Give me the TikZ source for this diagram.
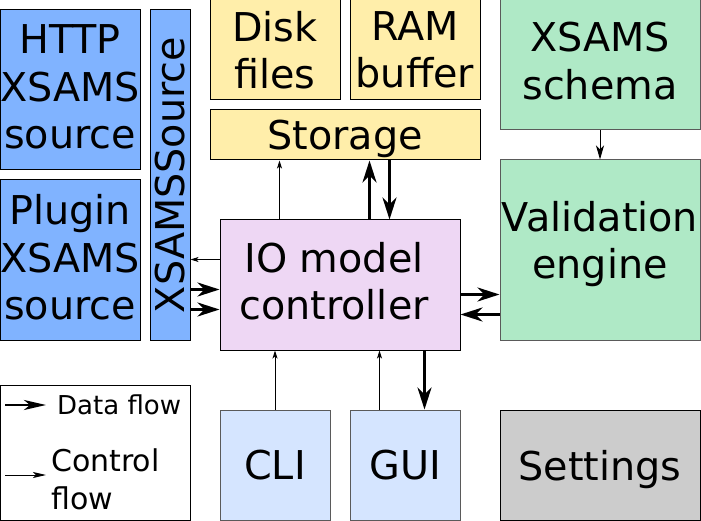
\documentclass[tikz,border=0pt]{standalone}
\usepackage{fontspec}
\setmainfont{DejaVu Sans}
\usepackage{tikz}
\usetikzlibrary{arrows.meta, positioning, calc}
\definecolor{srcblue}{RGB}{128,179,255}
\definecolor{storeyellow}{RGB}{255,238,170}
\definecolor{valgreen}{RGB}{175,233,198}
\definecolor{iopurple}{RGB}{238,215,244}
\definecolor{uiblue}{RGB}{213,229,255}
\definecolor{setgray}{RGB}{204,204,204}
\definecolor{edgegray}{RGB}{90,90,90}
\tikzset{
  box/.style={rectangle, draw=black, line width=1pt, inner sep=0pt,
    align=center, font=\fontsize{39.7}{47.5}\selectfont},
  softbox/.style={box, draw=edgegray},
  data/.style={-{Stealth[length=22pt, width=14pt, inset=7pt]}, line width=3pt},
  ctrl/.style={-{Stealth[length=8pt, width=5pt, inset=2pt]}, line width=1pt}
}

\begin{document}
\begin{tikzpicture}[x=1pt, y=-1pt]
    \useasboundingbox (0,0) rectangle (701,521);

    % Sources
    \node[box, fill=srcblue, minimum width=140, minimum height=160, text depth=6pt] (http) at (70,90) {HTTP\\XSAMS\\source};
    \node[box, fill=srcblue, minimum width=140, minimum height=160, text depth=6pt] (plugin) at (70,260) {Plugin\\XSAMS\\source};
    \node[box, fill=srcblue, minimum width=40, minimum height=330] (xsrc) at (170,175) {};
    \node[rotate=90, inner sep=0pt, font=\fontsize{39.7}{47.5}\selectfont] (xsrctext) at (xsrc.center) {XSAMSSource};

    % Storage
    \node[box, fill=storeyellow, minimum width=130, minimum height=100] (disk) at (275,50) {Disk\\files};
    \node[box, fill=storeyellow, minimum width=130, minimum height=100] (ram) at (415,50) {RAM\\buffer};
    \node[box, fill=storeyellow, minimum width=270, minimum height=50, text depth=0pt] (storage) at (345,135) {Storage};

    % Validation
    \node[softbox, fill=valgreen, minimum width=200, minimum height=130, text depth=8pt] (schema) at (600,65) {XSAMS\\schema};
    \node[softbox, fill=valgreen, minimum width=200, minimum height=180, text depth=20pt] (valid) at (600,250) {Validation\\engine};

    % Controller
    \node[box, fill=iopurple, minimum width=240, minimum height=130, text depth=8pt] (io) at (340,285) {IO model\hspace*{12pt}\\controller\hspace*{12pt}};

    % User interfaces
    \node[softbox, fill=uiblue, minimum width=110, minimum height=110] (cli) at (275,465) {CLI};
    \node[softbox, fill=uiblue, minimum width=110, minimum height=110] (gui) at (405,465) {GUI};
    \node[box, fill=setgray, minimum width=200, minimum height=110, text depth=0pt] (settings) at (600,465) {Settings};

    % Storage links
    \draw[ctrl] ([xshift=60]io.north west) -- ([xshift=60]io.north west |- storage.south);
    \draw[data] ([xshift=150]io.north west) -- ([xshift=150]io.north west |- storage.south);
    \draw[data] ([xshift=170]io.north west |- storage.south) -- ([xshift=170]io.north west);

    % Source links
    \draw[ctrl] ([yshift=-40]io.north west) -- ([yshift=-40]io.north west -| xsrc.east);
    \draw[data] ([yshift=-70]io.north west -| xsrc.east) -- ([yshift=-70]io.north west);
    \draw[data] ([yshift=-90]io.north west -| xsrc.east) -- ([yshift=-90]io.north west);

    % Validation links
    \draw[data] ([yshift=-75]io.north east) -- ([yshift=-75]io.north east -| valid.west);
    \draw[data] ([yshift=-95]io.north east -| valid.west) -- ([yshift=-95]io.north east);
    \draw[ctrl, -{Stealth[length=14pt, width=8pt, inset=4pt]}] (schema.south) -- (valid.north);

    % UI links
    \draw[ctrl] (cli.north) -- (cli.north |- io.south);
    \draw[ctrl] ([xshift=30]gui.north west) -- ([xshift=30]gui.north west |- io.south);
    \draw[data] ([xshift=75]gui.north west |- io.south) -- ([xshift=75]gui.north west);

    % Legend
    \node[draw, fill=white, line width=1pt, minimum width=190, minimum height=135] (legend) at (95,452.5) {};
    \coordinate (dataA) at (5,405);
    \coordinate (dataB) at (46,405);
    \draw[data, -{Stealth[length=22pt, width=10pt, inset=6pt]}, line width=2.5pt] (dataA) -- (dataB);
    \node[anchor=base west, inner sep=0pt, font=\fontsize{26}{32}\selectfont] (datalbl) at (57,414) {Data flow};
    \coordinate (ctrlA) at (5,475);
    \coordinate (ctrlB) at (46,475);
    \draw[ctrl, -{Stealth[length=13pt, width=6pt, inset=3pt]}] (ctrlA) -- (ctrlB);
    \node[anchor=north west, inner sep=0pt, align=left, font=\fontsize{30}{37.5}\selectfont] (ctrllbl) at (51,449) {Control\\flow};
\end{tikzpicture}
\end{document}
